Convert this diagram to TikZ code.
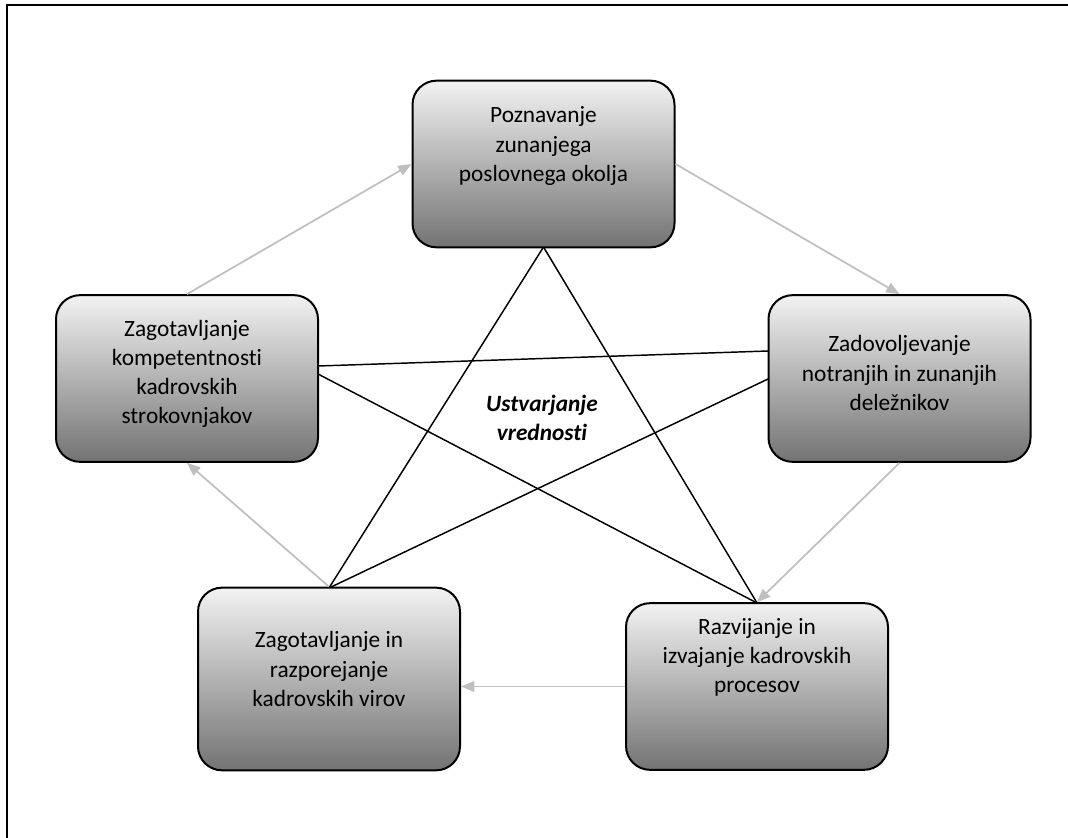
\documentclass[tikz,border=0pt]{standalone}
\usepackage{fontspec}
\setmainfont{Carlito}[Ligatures=NoCommon]
\usetikzlibrary{arrows.meta}
\begin{document}
\begin{tikzpicture}[x=0.75pt,y=-0.75pt,
  card/.style={draw=black, line width=1.5pt, rounded corners=18pt,
    top color=black!5, bottom color=black!55,
    minimum width=196.5pt, minimum height=125pt, inner sep=0pt},
  tall/.style={minimum height=137pt},
  lbl/.style={align=center, inner sep=0pt, font=\fontsize{17.5}{21.8}\selectfont},
  starline/.style={draw=black, line width=1.1pt},
  flow/.style={draw=black!25, line width=1.3pt, -{Triangle[length=10pt,width=8pt]}},
  frame/.style={draw=black, line width=1.6pt}]
\useasboundingbox (0,0) rectangle (1068,838);

% open frame along the top and left edges
\coordinate (f1) at (7,838);
\coordinate (f2) at (7,5);
\coordinate (f3) at (1068,5);
\draw[frame] (f1) -- (f2) -- (f3);

% anchor points of the five-pointed star
\coordinate (pTop) at (543.5,247);
\coordinate (pBL) at (329,588);
\coordinate (pBR) at (757,603);
\coordinate (pL1) at (318,366);
\coordinate (pL2) at (318,374);
\coordinate (pR1) at (768,351);
\coordinate (pR2) at (768,379);

\draw[starline] (pTop) -- (pBL);
\draw[starline] (pTop) -- (pBR);
\draw[starline] (pL1) -- (pR1);
\draw[starline] (pL2) -- (pBR);
\draw[starline] (pR2) -- (pBL);

% the five process boxes
\node[card] (top) at (543.5,164) {};
\node[card] (left) at (187,378.5) {};
\node[card] (right) at (899.5,378.5) {};
\node[card,tall] (bl) at (329,679) {};
\node[card] (br) at (757,686.5) {};

\node[lbl] (ttop) at (543.5,146) {Poznavanje\\zunanjega\\poslovnega okolja};
\node[lbl] (tleft) at (187,374) {Zagotavljanje\\kompetentnosti\\kadrovskih\\strokovnjakov};
\node[lbl] (tright) at (899.5,373) {Zadovoljevanje\\notranjih in zunanjih\\deležnikov};
\node[lbl] (tbl) at (329,669) {Zagotavljanje in\\razporejanje\\kadrovskih virov};
\node[lbl] (tbr) at (757,657) {Razvijanje in\\izvajanje kadrovskih\\procesov};

\node[lbl, font=\fontsize{17.5}{21.8}\selectfont\bfseries\itshape] (centre) at (542,418) {Ustvarjanje\\vrednosti};

% cycle of grey arrows between the boxes
\draw[flow] (left.north) -- (top.west);
\draw[flow] (top.east) -- (right.north);
\draw[flow] (right.south) -- (br.north);
\draw[flow] (br.west) -- (br.west -| bl.east);
\draw[flow] (bl.north) -- (left.south);
\end{tikzpicture}
\end{document}
